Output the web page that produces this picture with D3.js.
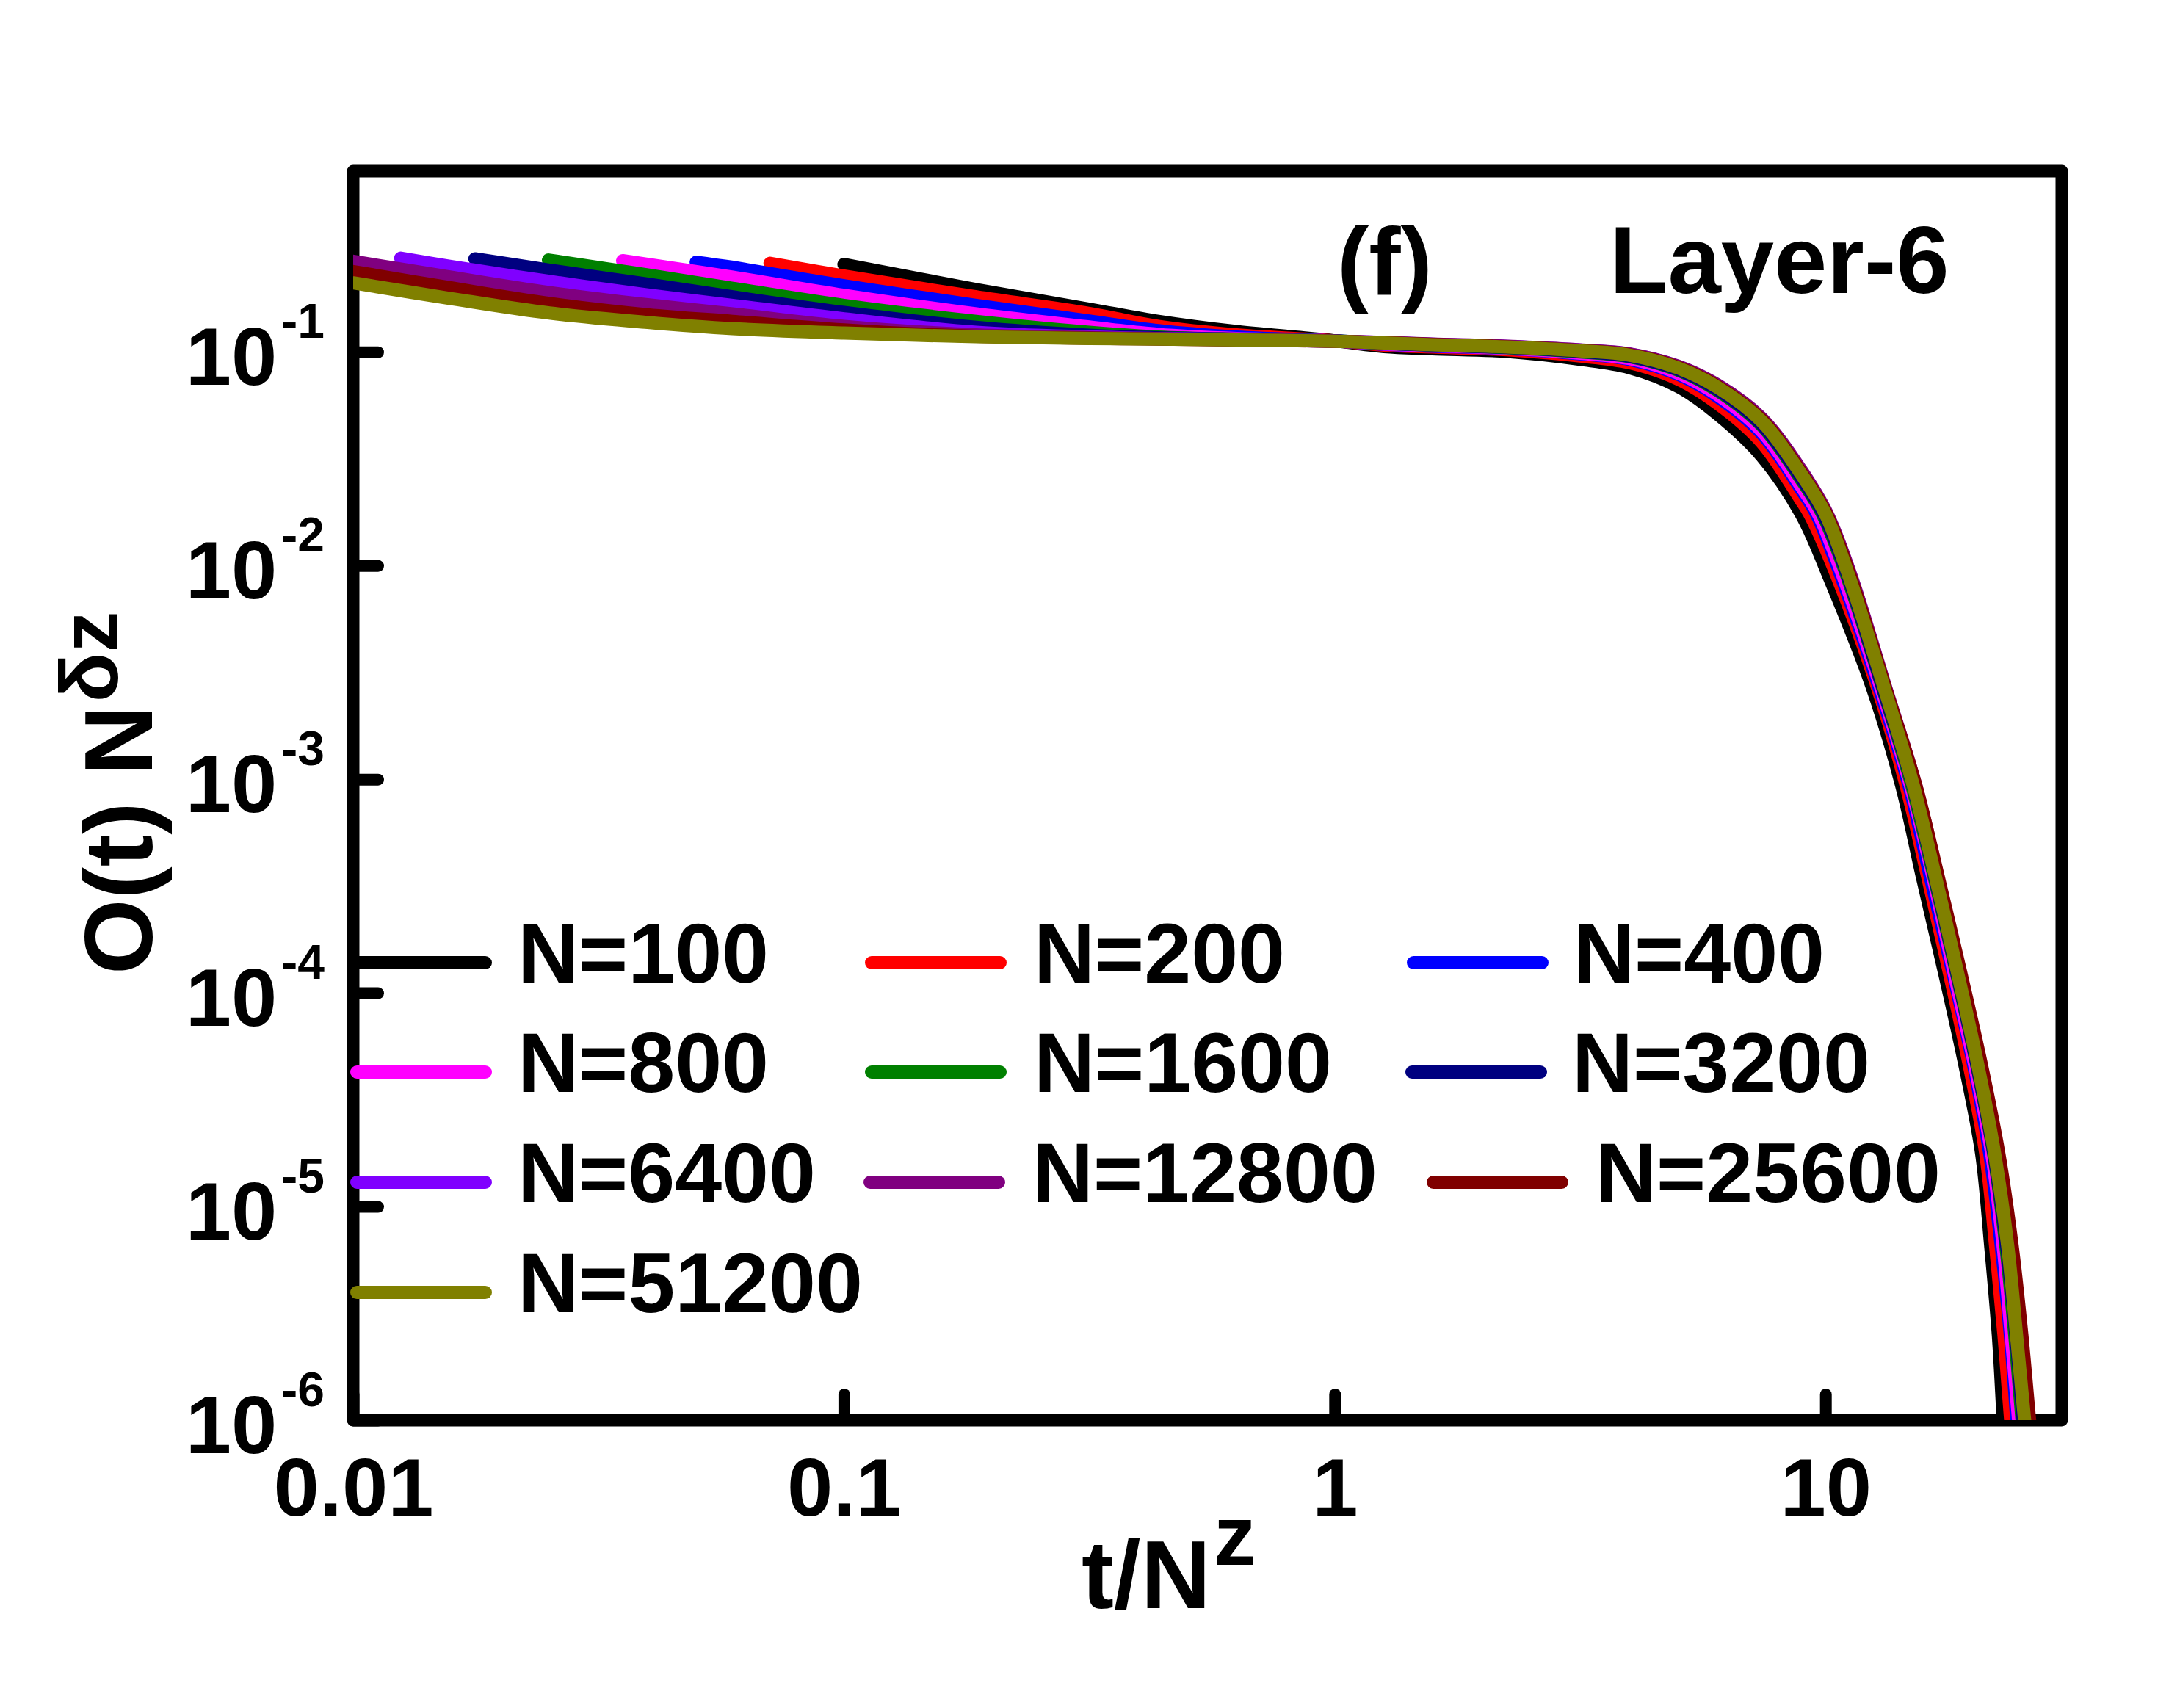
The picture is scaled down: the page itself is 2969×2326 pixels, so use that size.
<!DOCTYPE html>
<html>
<head>
<meta charset="utf-8">
<script src="https://cdn.jsdelivr.net/npm/d3@7"></script>
<style>
html, body { margin: 0; padding: 0; background: #ffffff; }
svg { display: block; }
text { font-family: "Liberation Sans", Arial, Helvetica, sans-serif; font-weight: bold; fill: #000; }
</style>
</head>
<body>
<svg id="chart" width="2969" height="2326"></svg>
<script>
// ---------------- DATA ----------------
const sizes = [100, 200, 400, 800, 1600, 3200, 6400, 12800, 25600, 51200];

// first point of each curve (curves for N >= 12800 start left of the frame)
const startX = [0.1, 0.0707, 0.05, 0.0354, 0.025, 0.0177, 0.0125, null, null, null];
const startY = [0.2570, 0.2600, 0.2630, 0.2673, 0.2692, 0.2729, 0.2748, null, null, null];

// shared t/N^z positions for the early part and the plateau
const xGrid = [0.01, 0.0158, 0.0251, 0.0398, 0.0593, 0.1, 0.186, 0.316, 0.437, 0.631,
               1.0, 1.26, 1.58, 2.24, 3.16, 3.98, 5.01, 6.03, 7.41, 8.91];

const yN100   = [null, null, null, null, null, null, 0.1959, 0.1585, 0.1390, 0.1245,
                 0.1127, 0.1059, 0.1035, 0.1005, 0.0923, 0.0845, 0.0689, 0.0511, 0.0326, null];
const yN200   = [null, null, null, null, null, 0.2265, 0.1811, 0.1514, 0.1318, 0.1202,
                 0.1127, 0.1076, 0.1054, 0.1023, 0.0957, 0.0891, 0.0746, 0.0573, 0.0378, 0.0203];
const yN400   = [null, null, null, null, 0.2489, 0.2042, 0.1652, 0.1396, 0.1259, 0.1175,
                 0.1125, 0.1086, 0.1064, 0.1038, 0.0980, 0.0923, 0.0785, 0.0617, 0.0416, 0.0228];
const yN800   = [null, null, null, null, 0.2239, 0.1841, 0.1507, 0.1309, 0.1208, 0.1156,
                 0.1125, 0.1089, 0.1069, 0.1040, 0.0986, 0.0931, 0.0796, 0.0630, 0.0427, 0.0236];
const yN1600  = [null, null, null, 0.2291, 0.1986, 0.1652, 0.1390, 0.1236, 0.1175, 0.1146,
                 0.1125, 0.1096, 0.1076, 0.1047, 0.1000, 0.0951, 0.0822, 0.0659, 0.0453, 0.0254];
const yN3200  = [null, null, 0.2415, 0.2075, 0.1811, 0.1531, 0.1303, 0.1197, 0.1164, 0.1148,
                 0.1125, 0.1099, 0.1076, 0.1050, 0.1005, 0.0955, 0.0828, 0.0667, 0.0460, 0.0259];
const yN6400  = [null, 0.2512, 0.2138, 0.1849, 0.1652, 0.1429, 0.1236, 0.1175, 0.1156, 0.1143,
                 0.1122, 0.1107, 0.1086, 0.1062, 0.1021, 0.0977, 0.0853, 0.0695, 0.0485, 0.0277];
const yN12800 = [0.2655, 0.2239, 0.1897, 0.1663, 0.1507, 0.1318, 0.1202, 0.1167, 0.1153, 0.1140,
                 0.1122, 0.1109, 0.1089, 0.1064, 0.1023, 0.0980, 0.0857, 0.0700, 0.0490, 0.0281];
const yN25600 = [0.2377, 0.1995, 0.1687, 0.1493, 0.1390, 0.1268, 0.1183, 0.1159, 0.1148, 0.1138,
                 0.1122, 0.1104, 0.1084, 0.1057, 0.1014, 0.0970, 0.0847, 0.0689, 0.0481, 0.0274];
const yN51200 = [0.2104, 0.1778, 0.1521, 0.1374, 0.1285, 0.1225, 0.1178, 0.1156, 0.1148, 0.1138,
                 0.1122, 0.1102, 0.1081, 0.1054, 0.1012, 0.0966, 0.0841, 0.0682, 0.0474, 0.0269];

// steep tail: shared O(t)N^dz levels, per-curve t/N^z where each curve reaches them
const tailY = [0.01738, 0.00871, 0.00263, 0.000933, 0.000339, 0.000123,
               4.68e-5, 1.78e-5, 6.61e-6, 2.51e-6, 1.05e-6, 6.31e-7];
const tN100   = [8.93, 10.2, 12.5, 14.3, 15.8, 17.5, 19.2, 20.8, 21.7, 22.5, 23.0, 23.3];
const tN200   = [9.29, 10.6, 12.8, 14.6, 16.2, 17.9, 19.6, 21.2, 22.2, 23.1, 23.8, 24.2];
const tN400   = [9.59, 10.8, 12.9, 14.8, 16.4, 18.2, 20.0, 21.6, 22.8, 23.8, 24.5, 24.9];
const tN800   = [9.68, 10.9, 13.0, 14.9, 16.6, 18.3, 20.1, 21.8, 23.0, 23.9, 24.7, 25.1];
const tN1600  = [9.86, 11.1, 13.1, 15.0, 16.7, 18.5, 20.3, 22.0, 23.3, 24.3, 25.1, 25.6];
const tN3200  = [9.91, 11.15, 13.12, 15.07, 16.75, 18.54, 20.32, 22.03, 23.39, 24.43, 25.23, 25.76];
const tN6400  = [10.07, 11.30, 13.27, 15.24, 16.94, 18.75, 20.56, 22.28, 23.66, 24.72, 25.59, 26.18];
const tN12800 = [10.09, 11.32, 13.30, 15.28, 16.98, 18.79, 20.61, 22.34, 23.71, 24.77, 25.64, 26.24];
const tN25600 = [10.05, 11.27, 13.27, 15.28, 17.02, 18.88, 20.75, 22.54, 23.99, 25.12, 26.00, 26.61];
const tN51200 = [10.0, 11.2, 13.2, 15.1, 16.8, 18.6, 20.4, 22.1, 23.5, 24.5, 25.4, 26.0];

const xTicks = [0.01, 0.1, 1, 10];
const xTickLabels = ["0.01", "0.1", "1", "10"];
const yTicks = [1e-6, 1e-5, 1e-4, 1e-3, 1e-2, 1e-1];
const yTickExponents = ["-6", "-5", "-4", "-3", "-2", "-1"];
const legendLabels = sizes.map(n => "N=" + n);

// ---------------- STYLE / LAYOUT ----------------
const colors = ["#000000", "#FF0000", "#0000FF", "#FF00FF", "#008000",
                "#000080", "#8000FF", "#800080", "#800000", "#808000"];
const gridY = [yN100, yN200, yN400, yN800, yN1600, yN3200, yN6400, yN12800, yN25600, yN51200];
const tailX = [tN100, tN200, tN400, tN800, tN1600, tN3200, tN6400, tN12800, tN25600, tN51200];

const L = 481, R = 2808, T = 233, B = 1934;
const x = d3.scaleLog().domain([0.01, 30.3]).range([L, R]);
const y = d3.scaleLog().domain([1e-6, 0.702]).range([B, T]);

const svg = d3.select("#chart");
svg.append("rect").attr("width", 2969).attr("height", 2326).attr("fill", "#fff");

svg.append("defs").append("clipPath").attr("id", "plotClip")
  .append("rect").attr("x", L).attr("y", T).attr("width", R - L).attr("height", B - T);

// frame
svg.append("rect")
  .attr("x", L).attr("y", T).attr("width", R - L).attr("height", B - T)
  .attr("fill", "none").attr("stroke", "#000").attr("stroke-width", 17)
  .attr("stroke-linejoin", "round");

// curves
const line = d3.line().x(d => x(d[0])).y(d => y(d[1])).curve(d3.curveCatmullRom.alpha(0.5));
const curves = svg.append("g").attr("clip-path", "url(#plotClip)");
sizes.forEach((n, i) => {
  const pts = [];
  if (startX[i] !== null) pts.push([startX[i], startY[i]]);
  xGrid.forEach((xv, j) => { const v = gridY[i][j]; if (v !== null) pts.push([xv, v]); });
  tailX[i].forEach((xv, j) => pts.push([xv, tailY[j]]));
  curves.append("path").datum(pts)
    .attr("d", line).attr("fill", "none")
    .attr("stroke", colors[i]).attr("stroke-width", 18)
    .attr("stroke-linecap", "round").attr("stroke-linejoin", "round");
});

// x axis (ticks point inward)
const xAxis = d3.axisBottom(x).tickValues(xTicks)
  .tickFormat((d, i) => xTickLabels[i]).tickSize(-35).tickPadding(50);
const gx = svg.append("g").attr("transform", `translate(0,${B})`).call(xAxis);
gx.select(".domain").remove();
gx.selectAll(".tick line").attr("stroke", "#000").attr("stroke-width", 16).attr("stroke-linecap", "round");
gx.selectAll(".tick text").attr("font-size", 112).attr("font-family", null)
  .attr("dy", "0.71em").style("font-family", '"Liberation Sans", Arial, sans-serif').style("font-weight", "bold");

// y axis (ticks point inward)
const yAxis = d3.axisLeft(y).tickValues(yTicks).tickFormat(() => "").tickSize(-34).tickPadding(39);
const gy = svg.append("g").attr("transform", `translate(${L},0)`).call(yAxis);
gy.select(".domain").remove();
gy.selectAll(".tick line").attr("stroke", "#000").attr("stroke-width", 16).attr("stroke-linecap", "round");
gy.selectAll(".tick text").each(function(d, i) {
  const t = d3.select(this).attr("font-size", null).attr("font-family", null)
    .attr("dy", 44).attr("text-anchor", "end")
    .style("font-family", '"Liberation Sans", Arial, sans-serif').style("font-weight", "bold");
  t.text(null);
  t.append("tspan").attr("font-size", 112).text("10");
  t.append("tspan").attr("font-size", 66).attr("dx", 6).attr("dy", -64).text(yTickExponents[i]);
});

// axis titles
const xt = svg.append("text").attr("x", 1473).attr("y", 2190).attr("font-size", 132);
xt.append("tspan").text("t/N");
xt.append("tspan").attr("font-size", 115).attr("dx", 4).attr("dy", -59).text("z");

const yt = svg.append("text").attr("transform", "translate(207,1327) rotate(-90)").attr("font-size", 132);
yt.append("tspan").text("O(t) N");
yt.append("tspan").attr("font-size", 112).attr("dx", 4).attr("dy", -47).text("δz");

// panel annotations
svg.append("text").attr("x", 1821).attr("y", 401).attr("font-size", 130).text("(f)");
svg.append("text").attr("x", 2192).attr("y", 399).attr("font-size", 130).text("Layer-6");

// legend
const legRowY = [1311, 1460, 1610, 1760];
const legLineX0 = [477, 1178, 1916, 477, 1178, 1914, 477, 1176, 1943, 477];
const legTextX = [705, 1408, 2143, 705, 1408, 2141, 705, 1406, 2173, 705];
const legLen = 193;
const leg = svg.append("g");
legendLabels.forEach((lab, i) => {
  const ry = legRowY[Math.floor(i / 3)];
  leg.append("line")
    .attr("x1", legLineX0[i] + 9).attr("x2", legLineX0[i] + legLen - 9)
    .attr("y1", ry).attr("y2", ry)
    .attr("stroke", colors[i]).attr("stroke-width", 18).attr("stroke-linecap", "round");
  leg.append("text").attr("x", legTextX[i]).attr("y", ry + 27).attr("font-size", 115).text(lab);
});
</script>
</body>
</html>
